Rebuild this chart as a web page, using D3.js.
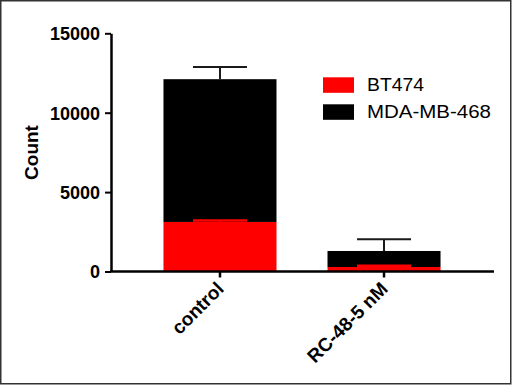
<!DOCTYPE html>
<html><head><meta charset="utf-8">
<script src="https://cdn.jsdelivr.net/npm/d3@7"></script>
<style>html,body{margin:0;padding:0;background:#fff;}svg{display:block;}</style>
</head><body>
<script>
const categories = ["control", "RC-48-5 nM"];
const seriesNames = ["BT474", "MDA-MB-468"];
const bt474Mean = [3120, 284];
const bt474SD = [90, 80];
const mdaMean = [8990, 1008];
const mdaSD = [775, 737];
const yTicks = [0, 5000, 10000, 15000];
const colors = ["#ff0000", "#000000"];

const W = 513, H = 386;
const svg = d3.select("body").append("svg").attr("width", W).attr("height", H);
svg.append("rect").attr("width", W).attr("height", H).attr("fill", "#fff");
svg.append("rect").attr("x", 0.75).attr("y", 0.75).attr("width", 510).attr("height", 383)
  .attr("fill", "none").attr("stroke", "#333").attr("stroke-width", 1.5);

const y = d3.scaleLinear().domain([0, 15000]).range([271.5, 33.3]);
const x = d3.scaleBand().domain(categories).range([110, 494]).paddingInner(0.311).paddingOuter(0.326);

const bt = categories.map((c, i) => ({c, y0: 0, y1: bt474Mean[i], sd: bt474SD[i]}));
const md = categories.map((c, i) => ({c, y0: bt474Mean[i], y1: bt474Mean[i] + mdaMean[i], sd: mdaSD[i]}));

[bt, md].forEach((s, k) => {
  svg.append("g").selectAll("rect").data(s).join("rect")
    .attr("x", d => x(d.c)).attr("width", x.bandwidth())
    .attr("y", d => y(d.y1)).attr("height", d => y(d.y0) - y(d.y1))
    .attr("fill", colors[k]);
});

const capHalf = 27;
[bt, md].forEach((s, k) => {
  const g = svg.append("g").attr("stroke", k === 0 ? colors[0] : "#1a1a1a").attr("stroke-width", k === 0 ? 2.5 : 2);
  s.forEach(d => {
    const cx = x(d.c) + x.bandwidth() / 2;
    g.append("line").attr("x1", cx).attr("x2", cx).attr("y1", y(d.y1)).attr("y2", y(d.y1 + d.sd));
    g.append("line").attr("x1", cx - capHalf).attr("x2", cx + capHalf).attr("y1", y(d.y1 + d.sd)).attr("y2", y(d.y1 + d.sd));
  });
});

// Y axis
const yAxis = svg.append("g").attr("transform", "translate(111,0)")
  .call(d3.axisLeft(y).tickValues(yTicks).tickFormat(d3.format("d")).tickSize(6).tickSizeOuter(0).tickPadding(5));
yAxis.select(".domain").attr("stroke", "#000").attr("stroke-width", 2.5);
yAxis.selectAll(".tick line").attr("stroke", "#000").attr("stroke-width", 2);
yAxis.selectAll(".tick text").attr("font-family", "'Liberation Sans', Arial, sans-serif")
  .attr("font-weight", "bold").attr("font-size", 18).attr("fill", "#000").attr("dy", "0.35em");

// X axis
const xAxis = svg.append("g").attr("transform", "translate(0,271.5)")
  .call(d3.axisBottom(x).tickSize(6).tickSizeOuter(0).tickFormat(""));
xAxis.select(".domain").attr("stroke", "#000").attr("stroke-width", 2.5).attr("d", "M110,0H494");
xAxis.selectAll(".tick line").attr("stroke", "#000").attr("stroke-width", 2.5);

svg.append("g").selectAll("text").data(categories).join("text")
  .attr("transform", d => `translate(${x(d) + x.bandwidth() / 2 + 5},290) rotate(-45)`)
  .attr("text-anchor", "end")
  .attr("font-family", "'Liberation Sans', Arial, sans-serif")
  .attr("font-weight", "bold").attr("font-size", 19).attr("fill", "#000")
  .text(d => d);

svg.append("text").attr("transform", "translate(38,152.5) rotate(-90)")
  .attr("text-anchor", "middle")
  .attr("font-family", "'Liberation Sans', Arial, sans-serif")
  .attr("font-weight", "bold").attr("font-size", 19).attr("fill", "#000")
  .text("Count");

// Legend
const legendW = [57, 124];
const lg = svg.append("g");
seriesNames.forEach((n, i) => {
  lg.append("rect").attr("x", 323).attr("y", 77.3 + i * 27).attr("width", 31).attr("height", 15.5).attr("fill", colors[i]);
  lg.append("text").attr("x", 367).attr("y", 91 + i * 26.7)
    .attr("font-family", "'Liberation Sans', Arial, sans-serif")
    .attr("font-size", 18).attr("fill", "#000")
    .attr("textLength", legendW[i]).attr("lengthAdjust", "spacingAndGlyphs")
    .text(n);
});
</script>
</body></html>
